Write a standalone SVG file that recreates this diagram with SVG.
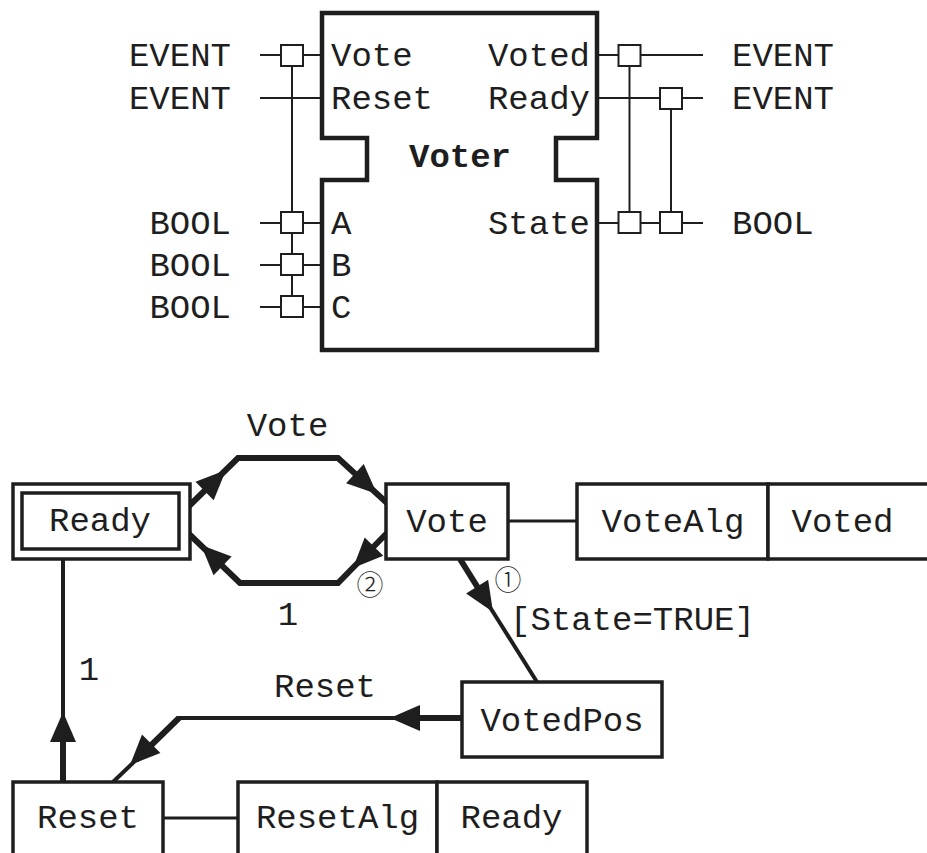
<svg xmlns="http://www.w3.org/2000/svg" width="927" height="853" viewBox="0 0 927 853">
<style>
text{font-family:"Liberation Mono","DejaVu Sans Mono",monospace;font-size:34px;fill:#1e1e1e}
.b{font-weight:bold}
.m{text-anchor:middle}
.e{text-anchor:end}
.c{font-family:"Noto Sans CJK JP","Noto Sans CJK SC",sans-serif;font-size:27px;font-weight:300;text-anchor:middle}
.blk{fill:#fff;stroke:#1e1e1e;stroke-width:4.5;stroke-linejoin:miter}
.pl{stroke:#1e1e1e;stroke-width:2;fill:none}
.pb{fill:#fff;stroke:#1e1e1e;stroke-width:2}
.st{fill:#fff;stroke:#1e1e1e;stroke-width:3.5}
.t1{stroke:#1e1e1e;stroke-width:6;fill:none;stroke-linejoin:miter}
.t2{stroke:#1e1e1e;stroke-width:4;fill:none;stroke-linejoin:miter}
.ln{stroke:#1e1e1e;stroke-width:3;fill:none}
</style>
<defs>
<path id="ah" d="M0,0 L-30,-13 L-30,13 Z" fill="#1e1e1e"/>
</defs>

<g id="voter-block">
<path class="blk" d="M322,13 H597 V138 H556 V180 H597 V350 H322 V180 H367 V138 H322 Z"/>
<text class="b m" x="460" y="167">Voter</text>
<text x="331" y="66">Vote</text>
<text x="331" y="109">Reset</text>
<text x="331" y="234">A</text>
<text x="331" y="276">B</text>
<text x="331" y="318">C</text>
<text class="e" x="590" y="66">Voted</text>
<text class="e" x="590" y="109">Ready</text>
<text class="e" x="590" y="234">State</text>
</g>

<g id="interface-connectors">
<line class="pl" x1="260" y1="55" x2="322" y2="55"/>
<line class="pl" x1="260" y1="98" x2="322" y2="98"/>
<line class="pl" x1="260" y1="223" x2="322" y2="223"/>
<line class="pl" x1="260" y1="265" x2="322" y2="265"/>
<line class="pl" x1="260" y1="307" x2="322" y2="307"/>
<line class="pl" x1="292" y1="55" x2="292" y2="307"/>
<rect class="pb" x="281" y="45" width="22" height="21"/>
<rect class="pb" x="281" y="212" width="22" height="21"/>
<rect class="pb" x="281" y="254" width="22" height="21"/>
<rect class="pb" x="281" y="296" width="22" height="21"/>
<line class="pl" x1="597" y1="55" x2="703" y2="55"/>
<line class="pl" x1="597" y1="98" x2="703" y2="98"/>
<line class="pl" x1="597" y1="223" x2="703" y2="223"/>
<line class="pl" x1="629.5" y1="55" x2="629.5" y2="223"/>
<line class="pl" x1="671" y1="98" x2="671" y2="223"/>
<rect class="pb" x="618.5" y="45" width="22" height="21"/>
<rect class="pb" x="660" y="88" width="22" height="21"/>
<rect class="pb" x="618.5" y="212" width="22" height="21"/>
<rect class="pb" x="660" y="212" width="22" height="21"/>
<text class="e" x="231" y="66">EVENT</text>
<text class="e" x="231" y="109">EVENT</text>
<text class="e" x="231" y="234">BOOL</text>
<text class="e" x="231" y="276">BOOL</text>
<text class="e" x="231" y="318">BOOL</text>
<text x="732" y="66">EVENT</text>
<text x="732" y="109">EVENT</text>
<text x="732" y="234">BOOL</text>
</g>

<g id="connectors">
<path class="t1" d="M188,507 L238,458 H338 L387,503"/>
<use href="#ah" transform="translate(226,470) rotate(-44.4)"/>
<use href="#ah" transform="translate(377,494) rotate(42.6)"/>
<path class="t1" d="M387,533 L338,583 H240 L188,533"/>
<use href="#ah" transform="translate(353,568) rotate(134.4)"/>
<use href="#ah" transform="translate(201,545) rotate(-136)"/>
<line class="t1" x1="460" y1="559" x2="488" y2="604"/>
<line class="t2" x1="488" y1="604" x2="537" y2="682"/>
<use href="#ah" transform="translate(493,612) rotate(58)"/>
<line class="t1" x1="462" y1="718" x2="400" y2="718"/>
<line class="t2" x1="400" y1="718" x2="177" y2="718"/>
<use href="#ah" transform="translate(390,718) rotate(180)"/>
<path class="t1" d="M179,718 L136,760"/>
<line class="t2" x1="136" y1="760" x2="113" y2="782"/>
<use href="#ah" transform="translate(130,765) rotate(135)"/>
<line class="t1" x1="63" y1="782" x2="63" y2="720"/>
<line class="t2" x1="63" y1="720" x2="63" y2="559"/>
<use href="#ah" transform="translate(63,712) rotate(-90)"/>
<line class="ln" x1="508" y1="521" x2="577" y2="521"/>
<line class="ln" x1="163" y1="818" x2="238" y2="818"/>
<text class="m" x="287.5" y="436">Vote</text>
<text class="m" x="288" y="625">1</text>
<text class="m" x="89" y="680">1</text>
<text class="m" x="325" y="697">Reset</text>
<text x="510" y="630">[State=TRUE]</text>
<text class="c" x="370" y="595">②</text>
<text class="c" x="508" y="590">①</text>
</g>

<g id="state-ready">
<rect class="st" x="13" y="484" width="177" height="75"/>
<rect class="st" x="22" y="493" width="157" height="56"/>
<text class="m" x="100" y="531">Ready</text>
</g>
<g id="state-vote">
<rect class="st" x="386" y="484" width="122" height="75"/>
<text class="m" x="447" y="532">Vote</text>
</g>
<g id="action-vote">
<rect class="st" x="577" y="484" width="191" height="75"/>
<rect class="st" x="768" y="484" width="170" height="75"/>
<text class="m" x="673" y="532">VoteAlg</text>
<text class="m" x="842.5" y="532">Voted</text>
</g>
<g id="state-votedpos">
<rect class="st" x="462" y="682" width="200" height="75"/>
<text class="m" x="562" y="731">VotedPos</text>
</g>
<g id="state-reset">
<rect class="st" x="13" y="782" width="150" height="90"/>
<text class="m" x="88" y="828">Reset</text>
</g>
<g id="action-reset">
<rect class="st" x="238" y="782" width="199" height="90"/>
<rect class="st" x="437" y="782" width="150" height="90"/>
<text class="m" x="337.5" y="828">ResetAlg</text>
<text class="m" x="511.5" y="828">Ready</text>
</g>
</svg>
